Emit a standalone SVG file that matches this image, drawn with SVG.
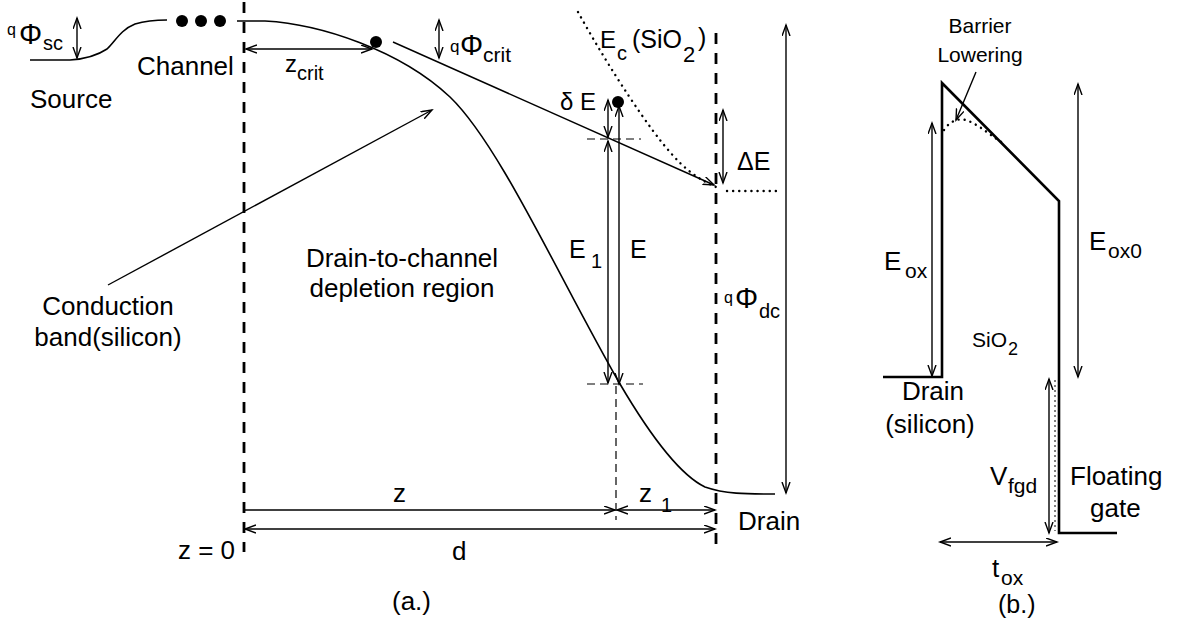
<svg xmlns="http://www.w3.org/2000/svg" width="1180" height="623" viewBox="0 0 1180 623">
<defs>
<marker id="ah" markerUnits="userSpaceOnUse" markerWidth="14" markerHeight="10" refX="11" refY="4.5" orient="auto-start-reverse">
<path d="M0,0.5 L11,4.5 L0,8.5" fill="none" stroke="#000" stroke-width="1.4"/>
</marker>
</defs>
<style>
text{font-family:"Liberation Sans",Arial,sans-serif;fill:#000}
.t{font-size:26px}
.curve{fill:none;stroke:#000;stroke-width:1.6}
.bold{fill:none;stroke:#000;stroke-width:2.6}
.arr{fill:none;stroke:#000;stroke-width:1.4;marker-end:url(#ah)}
.darr{fill:none;stroke:#000;stroke-width:1.4;marker-start:url(#ah);marker-end:url(#ah)}
.bigdash{fill:none;stroke:#000;stroke-width:2.8;stroke-dasharray:11 9}
.thindash{fill:none;stroke:#000;stroke-width:1.2;stroke-dasharray:8 5}
.dots{fill:none;stroke:#000;stroke-width:2.4;stroke-linecap:round;stroke-dasharray:0.1 6}
</style>
<rect width="1180" height="623" fill="#fff"/>

<g id="panel-a">
 <g id="band">
  <path class="curve" d="M30,60 L70,60 C85,59 98,55 107,49 C115,42 120,30 135,24 C145,21 155,20 167,20"/>
  <path class="curve" d="M237,21 L265,21 C320,24 400,50 450,97 C500,145 560,280 620,384 C650,435 680,475 705,487 C725,494 745,494 775,494"/>
  <circle cx="182" cy="21" r="6"/>
  <circle cx="201" cy="21" r="6"/>
  <circle cx="220" cy="21" r="6"/>
  <circle cx="376" cy="42" r="6"/>
  <circle cx="618" cy="102" r="6"/>
 </g>
 <g id="guides">
  <line class="bigdash" x1="244" y1="2" x2="244" y2="552"/>
  <line class="bigdash" x1="716" y1="33" x2="716" y2="552"/>
  <line class="thindash" x1="616" y1="386" x2="616" y2="520"/>
  <line class="thindash" x1="587" y1="139" x2="641" y2="139"/>
  <line class="thindash" x1="587" y1="384" x2="643" y2="384"/>
  <path class="dots" d="M578,12 C610,70 650,130 670,152 C685,170 700,180 716,187"/>
  <line class="dots" x1="727" y1="191" x2="776" y2="191"/>
 </g>
 <g id="connectors-a">
  <line class="darr" x1="77" y1="18" x2="77" y2="58"/>
  <line class="darr" x1="246" y1="49" x2="372" y2="49"/>
  <line class="darr" x1="439" y1="20" x2="439" y2="58"/>
  <line class="arr" x1="393" y1="42" x2="714" y2="185"/>
  <line class="arr" x1="108" y1="285" x2="432" y2="110"/>
  <line class="darr" x1="608" y1="100" x2="608" y2="137"/>
  <line class="darr" x1="608" y1="141" x2="608" y2="383"/>
  <line class="darr" x1="619" y1="106" x2="619" y2="384"/>
  <line class="darr" x1="723" y1="110" x2="723" y2="183"/>
  <line class="darr" x1="786" y1="25" x2="786" y2="493"/>
  <line class="arr" x1="244" y1="510" x2="615" y2="510"/>
  <line class="darr" x1="617" y1="510" x2="715" y2="510"/>
  <line class="darr" x1="245" y1="529" x2="715" y2="529"/>
 </g>
 <g id="labels-a">
  <text x="7" y="35" font-size="16">q</text>
  <text x="19" y="44" font-size="29">Φ</text>
  <text x="43" y="50" font-size="20">sc</text>
  <text class="t" x="30" y="108">Source</text>
  <text class="t" x="137" y="75">Channel</text>
  <text x="285" y="72" font-size="24">z</text>
  <text x="297" y="80" font-size="20">crit</text>
  <text x="450" y="52" font-size="17">q</text>
  <text x="460" y="55" font-size="29">Φ</text>
  <text x="483" y="62" font-size="21">crit</text>
  <text x="600" y="48" font-size="24">E</text>
  <text x="617" y="60" font-size="20">c</text>
  <text x="632" y="48" font-size="25">(SiO</text>
  <text x="683" y="62" font-size="22">2</text>
  <text x="698" y="46" font-size="25">)</text>
  <text x="560" y="110" font-size="24">δ E</text>
  <text x="737" y="170" font-size="25">ΔE</text>
  <text x="569" y="258" font-size="25">E</text>
  <text x="591" y="268" font-size="20">1</text>
  <text x="630" y="258" font-size="25">E</text>
  <text x="724" y="303" font-size="16">q</text>
  <text x="735" y="308" font-size="29">Φ</text>
  <text x="759" y="318" font-size="20">dc</text>
  <text class="t" x="402" y="267" text-anchor="middle">Drain-to-channel</text>
  <text class="t" x="402" y="297" text-anchor="middle">depletion region</text>
  <text class="t" x="108" y="315" text-anchor="middle">Conduction</text>
  <text class="t" x="108" y="346" text-anchor="middle">band(silicon)</text>
  <text class="t" x="393" y="502">z</text>
  <text class="t" x="639" y="502">z</text>
  <text x="661" y="512" font-size="20">1</text>
  <text class="t" x="738" y="530">Drain</text>
  <text class="t" x="452" y="560">d</text>
  <text class="t" x="235" y="559" text-anchor="end">z = 0</text>
  <text class="t" x="392" y="610">(a.)</text>
 </g>
</g>

<g id="panel-b">
 <g id="barrier">
  <path class="bold" d="M883,377 L942,377 L942,83 L1059,201 L1059,533 L1117,533"/>
  <path class="dots" d="M944,130 C950,121 958,118 966,120 C980,125 992,137 1003,143" stroke-width="1.8"/>
  <line x1="1055" y1="380" x2="1055" y2="531" stroke="#000" stroke-width="1" stroke-dasharray="2 3"/>
 </g>
 <g id="connectors-b">
  <line class="arr" x1="976" y1="72" x2="956" y2="120"/>
  <line class="darr" x1="932" y1="123" x2="932" y2="376"/>
  <line class="darr" x1="1078" y1="84" x2="1078" y2="377"/>
  <line class="darr" x1="1049" y1="379" x2="1049" y2="533"/>
  <line class="darr" x1="940" y1="542" x2="1057" y2="542"/>
 </g>
 <g id="labels-b">
  <text x="980" y="33" font-size="21" text-anchor="middle">Barrier</text>
  <text x="980" y="62" font-size="21" text-anchor="middle">Lowering</text>
  <text x="884" y="270" font-size="26">E</text>
  <text x="905" y="278" font-size="21">ox</text>
  <text x="1089" y="250" font-size="26">E</text>
  <text x="1108" y="258" font-size="21">ox0</text>
  <text x="972" y="347" font-size="21">SiO</text>
  <text x="1008" y="355" font-size="18">2</text>
  <text class="t" x="933" y="400" text-anchor="middle">Drain</text>
  <text class="t" x="930" y="433" text-anchor="middle">(silicon)</text>
  <text x="990" y="485" font-size="26">V</text>
  <text x="1008" y="493" font-size="21">fgd</text>
  <text class="t" x="1070" y="485">Floating</text>
  <text class="t" x="1090" y="517">gate</text>
  <text x="992" y="577" font-size="26">t</text>
  <text x="1001" y="585" font-size="21">ox</text>
  <text x="998" y="613" font-size="25">(b.)</text>
 </g>
</g>
</svg>
